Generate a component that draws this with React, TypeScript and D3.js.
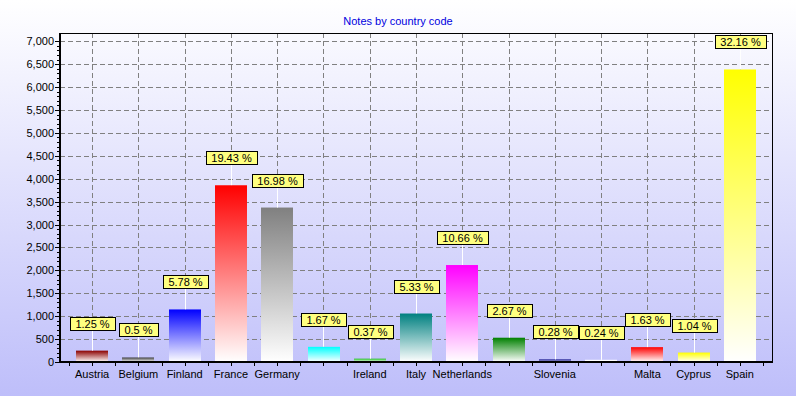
import React from "react";
import * as d3 from "d3";

// country codes along the x axis (blank ones are not labelled in the original)
const countries = [
  "Austria", "Belgium", "Finland", "France", "Germany", "",
  "Ireland", "Italy", "Netherlands", "", "Slovenia", "",
  "Malta", "Cyprus", "Spain",
];
const notes = [248, 99, 1147, 3857, 3371, 331, 73, 1058, 2116, 530, 56, 48, 324, 206, 6384];
const barColors = [
  "#8B0000", "#404040", "#0000FF", "#FF0000", "#808080", "#00FFFF",
  "#20C020", "#008080", "#FF00FF", "#008000", "#000080", "#FFFFFF",
  "#FF0000", "#FFFF00", "#FFFF00",
];
const yTicks = d3.range(0, 7001, 500);
const yMinor = d3.range(0, 7001, 100);

const W = 796;
const H = 396;
const FONT = "'Liberation Sans', Arial, sans-serif";

let ctx: CanvasRenderingContext2D | null = null;
function textWidth(s: string) {
  if (!ctx) ctx = document.createElement("canvas").getContext("2d");
  if (!ctx) return s.length * 6;
  ctx.font = `11px ${FONT}`;
  return ctx.measureText(s).width;
}

export default function App() {
  const left = 60, right = 772, top = 33, bottom = 362;
  const total = d3.sum(notes);

  const x = d3
    .scaleBand<number>()
    .domain(d3.range(countries.length))
    .range([69, 763])
    .paddingInner(0.31)
    .paddingOuter(0.155);
  const y = d3.scaleLinear().domain([0, 7180]).range([bottom, top]);
  const fmt = d3.format(",");
  const step = x.step();

  const xTickPos: number[] = [];
  countries.forEach((_, i) => {
    const c = x(i)! + x.bandwidth() / 2;
    xTickPos.push(c - step / 2, c);
    if (i === countries.length - 1) xTickPos.push(c + step / 2);
  });

  return (
    <svg width={W} height={H} style={{ position: "absolute", left: 0, top: 0 }}>
      <defs>
        <linearGradient id="bg" x1="0" y1="0" x2="0" y2="1">
          <stop offset="0" stopColor="#FFFFFF" />
          <stop offset="1" stopColor="#BEBEFA" />
        </linearGradient>
        {barColors.map((c, i) => (
          <linearGradient key={i} id={`bar${i}`} x1="0" y1="0" x2="0" y2="1">
            <stop offset="0" stopColor={c} />
            <stop offset="1" stopColor="#FFFFFF" />
          </linearGradient>
        ))}
      </defs>
      <rect x={0} y={0} width={W} height={H} fill="url(#bg)" />

      <text x={W / 2} y={25} textAnchor="middle" fontFamily={FONT} fontSize={11} fill="#0000E0">
        Notes by country code
      </text>

      {/* grid */}
      <g stroke="#808080" strokeDasharray="5,3" strokeWidth={1}>
        {yTicks.filter((t) => t > 0).map((t) => (
          <line key={t} x1={left} x2={right} y1={Math.round(y(t)) + 0.5} y2={Math.round(y(t)) + 0.5} />
        ))}
        {countries.map((_, i) => {
          const c = Math.round(x(i)! + x.bandwidth() / 2) + 0.5;
          return <line key={i} x1={c} x2={c} y1={top} y2={bottom} />;
        })}
      </g>

      {/* frame */}
      <line x1={left} x2={right} y1={top + 0.5} y2={top + 0.5} stroke="#000" />
      <line x1={right + 0.5} x2={right + 0.5} y1={top} y2={bottom} stroke="#000" />

      {/* bars */}
      {notes.map((v, i) => (
        <rect
          key={i}
          x={Math.round(x(i)!)}
          y={y(v)}
          width={Math.round(x.bandwidth())}
          height={bottom - y(v)}
          fill={`url(#bar${i})`}
        />
      ))}

      {/* value labels */}
      {notes.map((v, i) => {
        const c = Math.round(x(i)! + x.bandwidth() / 2) + 0.5;
        const label = `${+((v / total) * 100).toFixed(2)} %`;
        const w = Math.round(textWidth(label) + 11);
        const b = Math.round(y(v) - 21);
        return (
          <g key={i}>
            <line x1={c} x2={c} y1={b} y2={y(v)} stroke="#FFFFFF" />
            <rect x={Math.round(c - w / 2) + 0.5} y={b - 13 + 0.5} width={w} height={13} fill="#FFFF80" stroke="#000" />
            <text x={c} y={b - 2.5} textAnchor="middle" fontFamily={FONT} fontSize={11} fill="#000">
              {label}
            </text>
          </g>
        );
      })}

      {/* y axis */}
      <g stroke="#000">
        {yMinor.map((t) => (
          <line key={t} x1={t % 500 === 0 ? left - 5 : left - 3} x2={left} y1={Math.round(y(t)) + 0.5} y2={Math.round(y(t)) + 0.5} />
        ))}
        <line x1={left} x2={left} y1={top} y2={bottom + 1} strokeWidth={2} />
      </g>
      {yTicks.map((t) => (
        <text key={t} x={left - 6} y={y(t) + 4} textAnchor="end" fontFamily={FONT} fontSize={11} fill="#000">
          {fmt(t)}
        </text>
      ))}

      {/* x axis */}
      <g stroke="#000">
        {xTickPos.map((p, i) => (
          <line key={i} x1={Math.round(p) + 0.5} x2={Math.round(p) + 0.5} y1={bottom} y2={bottom + 4} />
        ))}
        <line x1={left - 1} x2={right + 1} y1={bottom} y2={bottom} strokeWidth={2} />
      </g>
      {countries.map((c, i) => (
        <text key={i} x={x(i)! + x.bandwidth() / 2} y={378} textAnchor="middle" fontFamily={FONT} fontSize={11} fill="#000">
          {c}
        </text>
      ))}
    </svg>
  );
}
